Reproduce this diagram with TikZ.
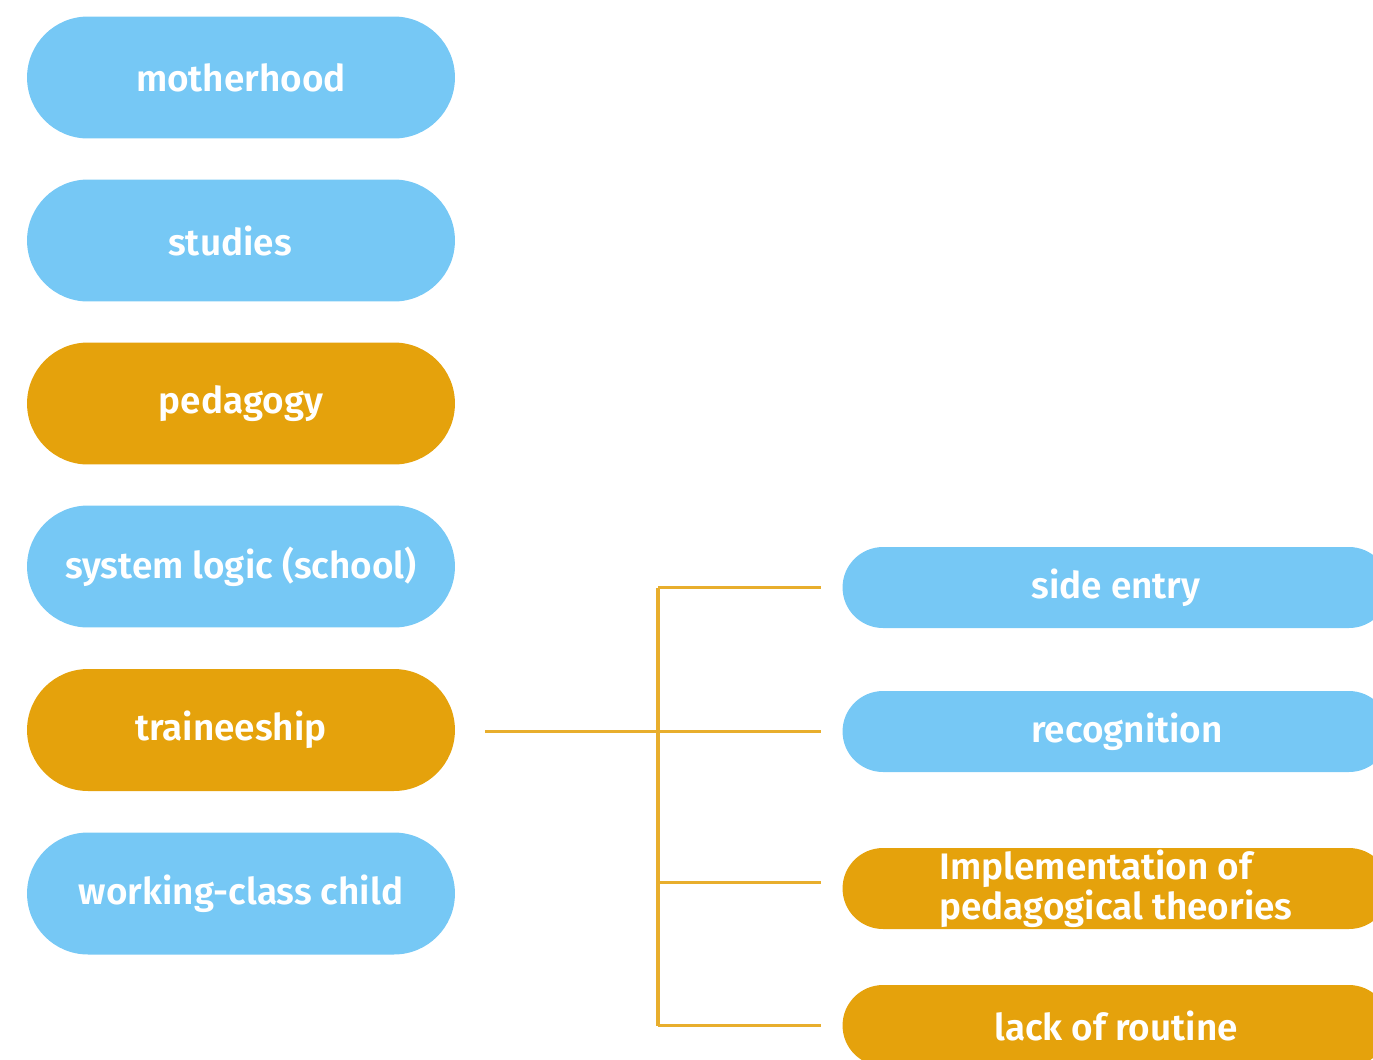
\documentclass[tikz,border=0pt]{standalone}
\usepackage{fontspec}
\setmainfont{Fira Sans}[BoldFont={Fira Sans SemiBold}]
\definecolor{pillblue}{RGB}{118,200,245}
\definecolor{pillorange}{RGB}{229,162,12}
\definecolor{lineorange}{RGB}{232,174,45}
\tikzset{
  pilltext/.style={text=white, font=\fontsize{21}{20.3}\selectfont\bfseries, inner sep=0pt},
  leftpill/.style={pilltext, rectangle, rounded corners=1.22cm, minimum width=8.56cm, minimum height=2.44cm},
  rightpill/.style={pilltext, rectangle, rounded corners=0.81cm, minimum width=10.94cm, minimum height=1.62cm},
  bluefill/.style={fill=pillblue},
  orangefill/.style={fill=pillorange},
  link/.style={draw=lineorange, line width=1.8pt}
}
\begin{document}
\begin{tikzpicture}[x=0.02cm,y=-0.02cm]
\useasboundingbox (0,0) rectangle (1373,1059);
\clip (0,0) rectangle (1373,1059);
\node[leftpill,bluefill] (moth) at (241,77.5) {motherhood};
\node[leftpill,bluefill] (stud) at (241,240.5) {studies\hspace*{0.44cm}};
\node[leftpill,orangefill] (peda) at (241,403.5) {pedagogy};
\node[leftpill,bluefill] (sysl) at (241,566.5) {system logic (school)};
\node[leftpill,orangefill] (trai) at (241,730) {traineeship\hspace*{0.4cm}};
\node[leftpill,bluefill] (work) at (241,893.5) {working-class child};
\node[rightpill,bluefill] (side) at (1116,587.5) {side entry};
\node[rightpill,bluefill] (reco) at (1116,731.5) {\hspace*{0.44cm}recognition};
\node[rightpill,orangefill,align=left] (impl) at (1116,888.5) {Implementation of\\pedagogical theories};
\node[rightpill,orangefill] (lack) at (1116,1025.5) {lack of routine};
\coordinate (trunk) at (658,732);
\draw[link] ([xshift=0.6cm]trai.east |- reco.west) -- ([xshift=-0.42cm]reco.west);
\draw[link] (trunk |- side.west) -- (trunk |- lack.west);
\draw[link] (trunk |- side.west) -- ([xshift=-0.42cm]side.west);
\draw[link] ([yshift=0.12cm]trunk |- impl.west) -- ([xshift=-0.42cm,yshift=0.12cm]impl.west);
\draw[link] (trunk |- lack.west) -- ([xshift=-0.42cm]lack.west);
\end{tikzpicture}
\end{document}
